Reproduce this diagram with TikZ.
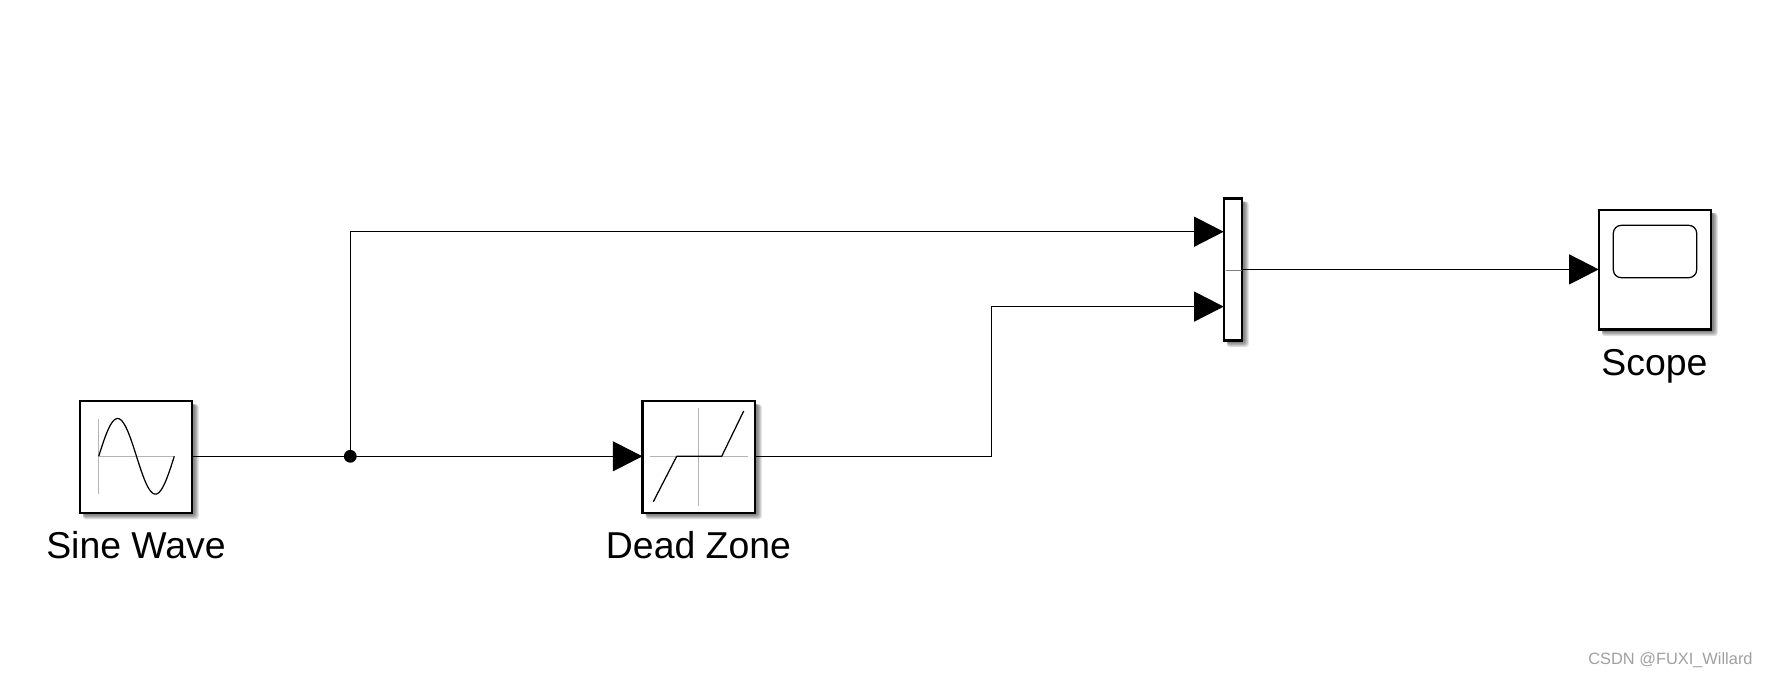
\documentclass[tikz,border=0pt]{standalone}
\usepackage{fontspec}
\setmainfont{Liberation Sans}
\usetikzlibrary{arrows.meta}
\definecolor{axisgray}{HTML}{B4B4B4}
\definecolor{markgray}{HTML}{A0A0A0}
\tikzset{
  x=0.5pt,y=-0.5pt,
  block/.style={draw=black,fill=white,line width=1.05pt,inner sep=0pt,outer sep=0pt,anchor=north west},
  wire/.style={draw=black,line width=0.62pt},
  signal/.style={wire,-{Triangle[length=14.8pt,width=15pt]},shorten >=-0.2pt},
  axis/.style={draw=axisgray,line width=0.6pt},
  icon/.style={draw=black,line width=0.62pt},
  caption/.style={font=\fontsize{18.7}{22}\selectfont,anchor=base,inner sep=0pt},
  junction/.style={circle,fill=black,draw=none,minimum size=6.4pt,inner sep=0pt},
}
% Soft drop shadow built from stacked translucent rectangles: left, top, right, bottom
\newcommand{\softshadow}[4]{%
  \foreach \g in {6,5,4,3,2,1}{%
    \fill[black,opacity=0.10,rounded corners=1.5pt]
      (#1+3,#2+3) rectangle (#3+1.5+\g*0.85,#4+1.5+\g*0.85);
  }%
}
\begin{document}
\begin{tikzpicture}
\useasboundingbox (0,0) rectangle (1767,676);

% Shadows beneath the blocks
\softshadow{80}{401.2}{192.2}{512.8}
\softshadow{642.5}{401.2}{755.2}{512.8}
\softshadow{1223.8}{198.5}{1242.2}{340.5}
\softshadow{1598.8}{209.8}{1711.2}{329.5}

% Blocks
\node[block,minimum width=56.1pt,minimum height=55.8pt] (sine) at (80,401.2) {};
\node[block,minimum width=56.35pt,minimum height=55.8pt] (dead) at (642.5,401.2) {};
\node[block,minimum width=9.2pt,minimum height=71pt] (mux) at (1223.8,198.5) {};
\node[block,minimum width=56.2pt,minimum height=59.85pt] (scope) at (1598.8,209.8) {};

% Sine Wave icon
\draw[axis] (98.7,419) -- (98.7,494.3);
\draw[axis] (98.7,456.3) -- (174.3,456.3);
\draw[icon,line join=round] plot[domain=0:360,samples=73,smooth] ({98.7+\x/360*75.6},{456.3-37.8*sin(\x)});

% Dead Zone icon
\draw[axis] (698.3,408) -- (698.3,505.7);
\draw[axis] (650,456.3) -- (747.7,456.3);
\draw[icon,line join=round] (653.3,501.7) -- (676.7,456.3) -- (721.7,456.3) -- (743.7,411);

% Mux centre tick
\draw[draw=gray,line width=0.65pt] (1226,270.6) -- (1241.5,270.6);

% Scope screen
\draw[icon,rounded corners=4pt] (1613.3,225.3) rectangle (1696.7,277.7);

% Port and routing points
\coordinate (sineOut) at (192.7,456.3);
\coordinate (deadIn) at (642,456.3);
\coordinate (deadOut) at (755.7,456.3);
\coordinate (muxInA) at (1223.3,231.7);
\coordinate (muxInB) at (1223.3,306.6);
\coordinate (muxOut) at (1242.7,269.4);
\coordinate (scopeIn) at (1598.3,269.4);
\coordinate (bendA) at (350.3,231.7);
\coordinate (bendB) at (991.7,456.3);
\coordinate (bendC) at (991.7,306.6);
\node[junction] (branch) at (350.3,456.3) {};

% Connectors
\draw[wire] (sineOut) -- (branch.center);
\draw[signal] (branch.center) -- (deadIn);
\draw[signal] (branch.center) -- (bendA) -- (muxInA);
\draw[signal] (deadOut) -- (bendB) -- (bendC) -- (muxInB);
\draw[signal] (muxOut) -- (scopeIn);

% Labels
\node[caption] (sineLabel) at (136,558) {Sine Wave};
\node[caption] (deadLabel) at (698.5,558) {Dead Zone};
\node[caption] (scopeLabel) at (1654.5,375.5) {Scope};
\node[anchor=base east,inner sep=0pt,text=markgray,font=\fontsize{8.2}{10}\selectfont] (mark) at (1753,664) {CSDN @FUXI\_Willard};
\end{tikzpicture}
\end{document}
